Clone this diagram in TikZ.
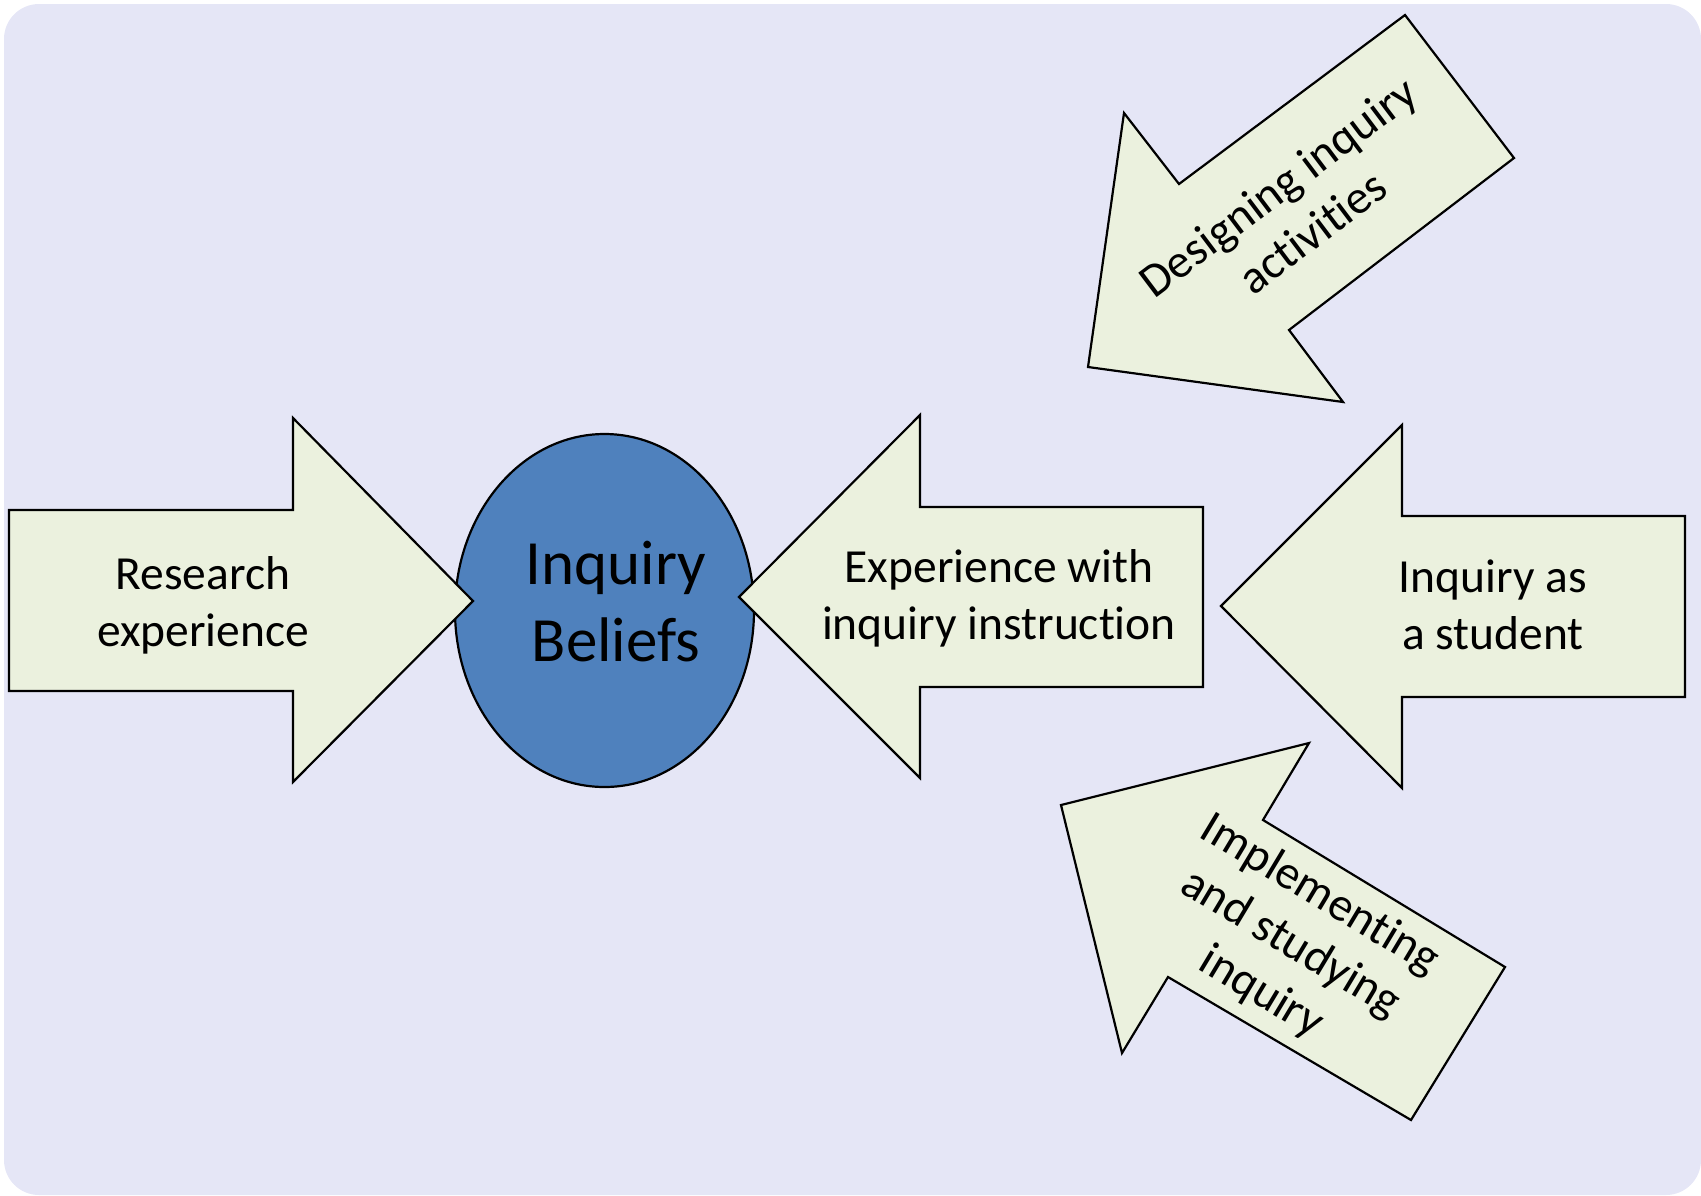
\documentclass[tikz,border=0pt]{standalone}
\usepackage{fontspec}
\setmainfont{Carlito}[Ligatures=NoCommon]
\definecolor{bgc}{RGB}{229,230,246}
\definecolor{arrowfill}{HTML}{EBF1DE}
\definecolor{blobfill}{HTML}{4F81BD}
\tikzset{
  blockarrow/.style={draw=black, fill=arrowfill, line width=2.2pt, line join=miter},
  lbl/.style={align=center, font=\fontsize{47.5}{57}\selectfont, inner sep=0pt, text=black},
  biglbl/.style={align=center, font=\fontsize{63}{77}\selectfont, inner sep=0pt, text=black}
}
\begin{document}
\begin{tikzpicture}[x=1pt,y=-1pt]
\useasboundingbox (0,0) rectangle (1701,1195);
\fill[bgc, rounded corners=35pt] (4,4) rectangle (1701,1195);
% central ellipse
\draw[fill=blobfill, draw=black, line width=2.2pt] (604.5,610.5) ellipse [x radius=149.5pt, y radius=176.5pt];
\node[biglbl] (beliefs) at (616,608) {\strut Inquiry\\\strut Beliefs};
% block arrows
\draw[blockarrow] (9,510) -- (293,510) -- (293,418) -- (473,601) -- (293,782) -- (293,691) -- (9,691) -- cycle;
\draw[blockarrow] (1203,507) -- (920,507) -- (920,415) -- (739,597) -- (920,778) -- (920,687) -- (1203,687) -- cycle;
\draw[blockarrow] (1685,516) -- (1402,516) -- (1402,425) -- (1221,606) -- (1402,788) -- (1402,697) -- (1685,697) -- cycle;
\draw[blockarrow] (1405,15) -- (1514,158) -- (1289,330) -- (1343,402) -- (1088,367) -- (1124,113) -- (1179,184) -- cycle;
\draw[blockarrow] (1061,805) -- (1309,743) -- (1263,820) -- (1505,967) -- (1411,1120) -- (1168,977) -- (1122,1053) -- cycle;
% labels
\node[lbl] (research) at (203,607) {\strut Research\\\strut experience};
\node[lbl] (instruction) at (999,600) {\strut Experience with\\\strut inquiry instruction};
\node[lbl] (student) at (1493,610) {\strut Inquiry as\\\strut a student};
\node[lbl, rotate=37] (designing) at (1298,213) {\strut Designing inquiry\\\strut activities};
\node[lbl, rotate=-31] (implementing) at (1290,945) {\strut Implementing\\\strut and studying\\\strut inquiry};
\end{tikzpicture}
\end{document}
